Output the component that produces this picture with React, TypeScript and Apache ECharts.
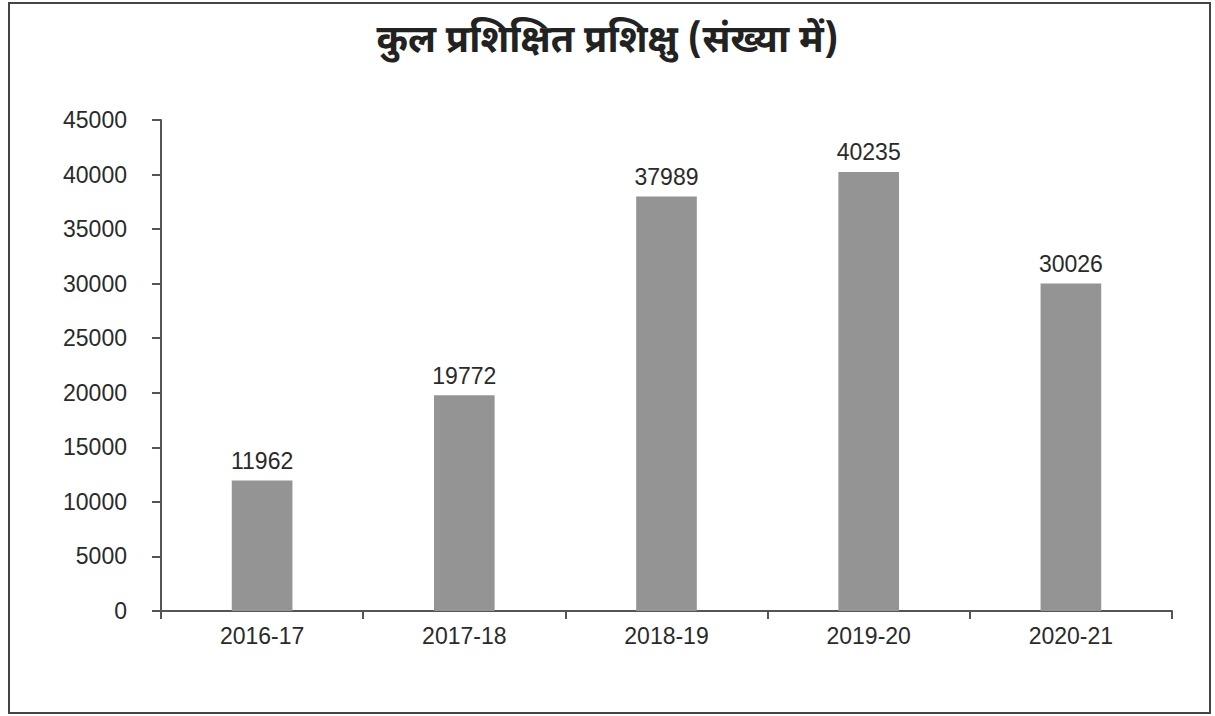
import React, { useEffect, useRef } from "react";
import * as echarts from "echarts";

const titleText = "कुल प्रशिक्षित प्रशिक्षु (संख्या में)";
const categories = ["2016-17", "2017-18", "2018-19", "2019-20", "2020-21"];
const traineeCounts = [11962, 19772, 37989, 40235, 30026];
const yMin = 0;
const yMax = 45000;
const yInterval = 5000;

export default function App() {
  const ref = useRef<HTMLDivElement>(null);
  useEffect(() => {
    if (!ref.current) return;
    const chart = echarts.init(ref.current, undefined, { renderer: "svg" });
    const axisColor = "#555555";
    const textColor = "#2a2a2a";
    const font = "'Liberation Sans', Arial, sans-serif";
    chart.setOption({
      animation: false,
      backgroundColor: "#ffffff",
      title: {
        text: titleText,
        left: "center",
        top: 19,
        textStyle: {
          fontFamily: "'Noto Sans Devanagari', 'Noto Sans', sans-serif",
          fontSize: 38,
          fontWeight: "bold",
          color: "#222222",
        },
      },
      graphic: [
        {
          type: "rect",
          shape: { x: 9, y: 3, width: 1201, height: 710 },
          style: { fill: "none", stroke: "#444444", lineWidth: 2 },
          silent: true,
        },
      ],
      grid: { left: 161, right: 43, top: 120, bottom: 105, containLabel: false },
      xAxis: {
        type: "category",
        data: categories,
        axisLine: { lineStyle: { color: axisColor, width: 2 } },
        axisTick: { show: true, length: 8, inside: false, alignWithLabel: false, lineStyle: { color: axisColor, width: 2 } },
        axisLabel: { margin: 13, fontSize: 23, color: textColor, fontFamily: font },
        splitLine: { show: false },
      },
      yAxis: {
        type: "value",
        min: yMin,
        max: yMax,
        interval: yInterval,
        axisLine: { show: true, lineStyle: { color: axisColor, width: 2 } },
        axisTick: { show: true, length: 9, lineStyle: { color: axisColor, width: 2 } },
        axisLabel: {
          margin: 34,
          fontSize: 23,
          color: textColor,
          fontFamily: font,
          formatter: (v: number) => String(v),
        },
        splitLine: { show: false },
      },
      series: [
        {
          type: "bar",
          data: traineeCounts,
          barWidth: "30%",
          itemStyle: { color: "#949494" },
          label: {
            show: true,
            position: "top",
            distance: 8,
            fontSize: 23,
            color: textColor,
            fontFamily: font,
          },
        },
      ],
    });
    return () => chart.dispose();
  }, []);
  return (
    <div
      ref={ref}
      style={{ position: "absolute", left: 0, top: 0, width: 1215, height: 716 }}
    />
  );
}
